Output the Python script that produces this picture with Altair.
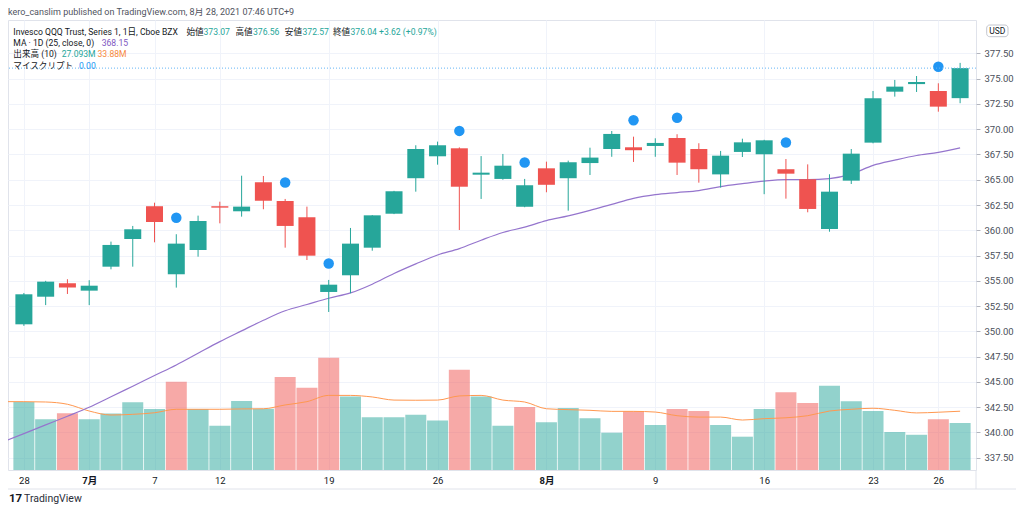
import json
import altair as alt
import pandas as pd

# ---------------- data ----------------
bar_index = list(range(44))  # trading days 2021-06-28 .. 2021-08-27
opens = [350.70, 353.43, 354.76, 354.03, 356.40, 359.14, 362.38, 355.65, 358.05, 362.38,
         361.88, 364.75, 362.90, 361.29, 353.90, 355.55, 358.28, 361.64, 365.15, 367.32,
         368.11, 365.50, 365.08, 362.34, 366.13, 365.15, 366.65, 368.04, 368.21, 368.34,
         369.13, 368.04, 365.53, 367.75, 367.52, 366.04, 365.05, 360.13, 364.91, 368.67,
         373.71, 374.46, 373.78, 373.07]
highs = [353.80, 355.00, 355.16, 355.06, 358.88, 360.43, 362.73, 359.61, 361.45, 362.83,
         365.40, 365.37, 363.10, 362.34, 355.09, 360.23, 361.50, 363.90, 368.41, 368.77,
         368.20, 367.34, 367.55, 365.08, 366.79, 366.89, 368.17, 369.82, 369.26, 369.10,
         369.50, 368.61, 367.85, 369.06, 368.95, 367.05, 366.52, 365.54, 368.04, 373.78,
         374.87, 375.26, 374.54, 376.56]
lows = [350.55, 352.60, 353.70, 352.60, 356.14, 356.40, 358.81, 354.33, 357.39, 360.69,
        361.35, 362.08, 358.28, 357.06, 351.92, 353.77, 357.98, 361.60, 363.82, 366.49,
        360.03, 363.10, 365.00, 362.28, 363.76, 361.94, 365.47, 367.27, 366.76, 367.27,
        365.47, 364.71, 364.22, 367.25, 363.57, 363.13, 361.78, 359.86, 364.58, 368.60,
        373.22, 373.68, 371.73, 372.57]
closes = [353.67, 354.92, 354.33, 354.52, 358.55, 360.10, 360.82, 358.68, 360.92, 362.24,
          362.34, 362.93, 360.43, 357.49, 354.62, 358.68, 361.48, 363.86, 368.04, 368.41,
          364.31, 365.70, 366.39, 364.45, 364.50, 366.73, 367.19, 369.53, 367.92, 368.64,
          366.69, 366.04, 367.38, 368.70, 368.90, 365.60, 362.11, 363.82, 367.58, 373.06,
          374.21, 374.67, 372.23, 376.04]
volumes_m = [39.2, 29.2, 32.7, 29.2, 32.5, 39.0, 35.2, 50.9, 35.2, 25.5,
             39.8, 35.3, 53.6, 47.4, 64.7, 42.3, 30.4, 30.4, 31.9, 28.6,
             57.8, 42.3, 25.5, 36.3, 27.5, 35.7, 29.8, 21.5, 33.8, 25.9,
             35.2, 34.0, 25.9, 19.2, 35.2, 44.8, 38.6, 48.6, 39.6, 34.0,
             21.9, 20.3, 29.2, 27.093]
volume_dir = ["up", "up", "down", "up", "up", "up", "up", "down", "up", "up",
              "up", "up", "down", "down", "down", "up", "up", "up", "up", "up",
              "down", "up", "up", "down", "up", "up", "up", "up", "down", "up",
              "down", "down", "up", "up", "up", "down", "down", "up", "up", "up",
              "up", "up", "down", "up"]
# moving averages, starting one bar before the first visible bar (index -1)
ma_index = list(range(-1, 44))
ma25 = [339.04, 339.89, 340.75, 341.61, 342.50, 343.53, 344.58, 345.63, 346.68, 347.84,
        348.99, 350.05, 351.10, 352.04, 352.66, 353.28, 353.81, 354.67, 355.73, 356.68,
        357.56, 358.19, 359.02, 359.78, 360.31, 360.96, 361.42, 361.97, 362.57, 363.16,
        363.52, 363.73, 363.93, 364.32, 364.61, 364.87, 365.01, 365.01, 365.11, 365.55,
        366.42, 366.94, 367.40, 367.71, 368.15]
vol_ma10 = [39.4, 39.4, 39.2, 37.9, 34.0, 31.7, 32.1, 33.0, 35.0, 35.0,
            35.0, 35.2, 35.3, 37.5, 39.4, 43.0, 43.0, 42.1, 40.3, 40.2,
            40.3, 42.7, 43.0, 40.3, 39.2, 35.3, 34.8, 34.4, 33.8, 33.8,
            33.4, 31.3, 30.5, 30.5, 28.8, 29.6, 30.1, 31.3, 34.0, 35.0,
            35.6, 34.4, 32.9, 33.3, 33.88]
signal_bars = [7, 12, 14, 20, 23, 28, 30, 35, 42]
x_tick_index = [0, 3, 6, 9, 14, 19, 24, 29, 34, 39, 42]
x_tick_labels = ["28", "7月", "7", "12", "19", "26", "8月", "9", "16", "23", "26"]
price_ticks = [337.5, 340.0, 342.5, 345.0, 347.5, 350.0, 352.5, 355.0, 357.5,
               360.0, 362.5, 365.0, 367.5, 370.0, 372.5, 375.0, 377.5]

# ---------------- styling ----------------
UP = "#26a69a"
DOWN = "#ef5350"
GRID = "#f0f3fa"
BORDER = "#e0e3eb"
TEXT = "#131722"
PURPLE = "#7e57c2"
ORANGE = "#ff9850"
BLUE = "#2196f3"
FONT = "Roboto, Noto Sans CJK JP, sans-serif"
FS = 8.6
W, H = 968, 450

df = pd.DataFrame({"i": bar_index, "open": opens, "high": highs, "low": lows,
                   "close": closes, "volume": volumes_m, "vdir": volume_dir})
df_ma = pd.DataFrame({"i": ma_index, "ma": ma25, "vma": vol_ma10})
df_sig = df[df["i"].isin(signal_bars)]
df_last = df.tail(1)

label_expr = "{}[indexof({}, datum.value)]".format(
    json.dumps(x_tick_labels, ensure_ascii=False), json.dumps(x_tick_index))
month_test = " || ".join("datum.value == %d" % v for v, t in zip(x_tick_index, x_tick_labels) if t.endswith("月"))

x_axis = alt.Axis(values=x_tick_index, labelExpr=label_expr, grid=True, gridColor=GRID,
                  domain=False, ticks=False, labelFontSize=9.5, labelColor=TEXT, labelFont=FONT,
                  labelPadding=5, title=None,
                  labelFontWeight={"condition": {"test": month_test, "value": "bold"}, "value": "normal"})
x_scale = alt.Scale(domain=[-0.5, 43.5], nice=False, zero=False)


def X():
    return alt.X("i:Q", scale=x_scale, axis=x_axis)


p_scale = alt.Scale(domain=[336.29, 380.80], nice=False, zero=False)
p_axis = alt.Axis(orient="right", values=price_ticks, format=".2f", grid=True, gridColor=GRID,
                  domain=False, tickSize=4, tickColor="#b2b5be", labelFontSize=9.5, labelColor="#4a4f5a",
                  labelFont=FONT, labelPadding=4, title=None)


def PY(field):
    return alt.Y(field + ":Q", scale=p_scale, axis=p_axis)


v_scale = alt.Scale(domain=[0, 259.4], nice=False, zero=True)

cond_color = alt.condition("datum.close >= datum.open", alt.value(UP), alt.value(DOWN))

# volume pane
vol_bars = alt.Chart(df).mark_bar(size=21, opacity=0.5).encode(
    x=X(), y=alt.Y("volume:Q", scale=v_scale, axis=None),
    color=alt.Color("vdir:N", scale=alt.Scale(domain=["up", "down"], range=[UP, DOWN]), legend=None))
vol_ma_line = alt.Chart(df_ma).mark_line(color=ORANGE, strokeWidth=1, clip=True, interpolate="monotone").encode(
    x=X(), y=alt.Y("vma:Q", scale=v_scale, axis=None))
vol_layer = alt.layer(vol_bars, vol_ma_line)

# price pane
ma_line = alt.Chart(df_ma).mark_line(color="#9575cd", strokeWidth=1.2, clip=True, interpolate="monotone").encode(
    x=X(), y=PY("ma"))
wicks = alt.Chart(df).mark_rule(strokeWidth=1).encode(x=X(), y=PY("low"), y2="high:Q", color=cond_color)
bodies = alt.Chart(df).mark_bar(size=17).encode(x=X(), y=PY("open"), y2="close:Q", color=cond_color)
dots = alt.Chart(df_sig).mark_circle(size=110, color=BLUE, opacity=1, yOffset=-16.5).encode(x=X(), y=PY("high"))
price_line = alt.Chart(df_last).mark_rule(color="#64b5f6", strokeDash=[1, 2], strokeWidth=1).encode(y=PY("close"))
price_layer = alt.layer(ma_line, wicks, bodies, dots, price_line)

dummy = pd.DataFrame({"k": [0]})


def txt(s, x, y, color=TEXT, size=FS, weight="normal", align="left"):
    return alt.Chart(dummy).mark_text(align=align, baseline="middle", font=FONT, fontSize=size,
                                      color=color, fontWeight=weight).encode(
        x=alt.value(x), y=alt.value(y), text=alt.value(s))


texts = [
    txt("kero_canslim published on TradingView.com, 8月 28, 2021 07:46 UTC+9", 0, -8.3, "#50535e", 9),
    txt("Invesco QQQ Trust, Series 1, 1日, Cboe BZX", 5.3, 11.7),
    txt("始値", 178.5, 11.7), txt("373.07", 195.5, 11.7, UP),
    txt("高値", 227.5, 11.7), txt("376.56", 245, 11.7, UP),
    txt("安値", 276.8, 11.7), txt("372.57", 294.5, 11.7, UP),
    txt("終値", 325, 11.7), txt("376.04 +3.62 (+0.97%)", 342.5, 11.7, UP),
    txt("MA · 1D (25, close, 0)", 5.3, 23.3), txt("368.15", 93.7, 23.3, PURPLE),
    txt("出来高 (10)", 5.3, 34.3), txt("27.093M", 53.7, 34.3, UP), txt("33.88M", 89.5, 34.3, "#f7893b"),
    txt("マイスクリプト", 5.3, 45.7), txt("0.00", 71, 45.7, BLUE),
    txt("17", 1, 478.5, TEXT, 11.5, "bold"),
    txt("TradingView", 16, 478.5, "#2a2e39", 10.5),
]

frame = [
    alt.Chart(dummy).mark_rule(color=BORDER).encode(x=alt.value(0), x2=alt.value(1008), y=alt.value(469)),
    alt.Chart(dummy).mark_rule(color=BORDER).encode(x=alt.value(W), y=alt.value(H), y2=alt.value(469)),
    alt.Chart(dummy).mark_rect(fill="white", stroke="#c3c6ce", strokeWidth=1, cornerRadius=3).encode(
        x=alt.value(978.7), x2=alt.value(1000), y=alt.value(5), y2=alt.value(16.7)),
    txt("USD", 989.3, 11, TEXT, 8.5, "normal", "center"),
]

chart = alt.layer(vol_layer, price_layer, *texts, *frame).resolve_scale(y="independent").properties(
    width=W, height=H,
    autosize=alt.AutoSizeParams(type="none"),
    padding={"left": 0, "top": 12, "right": 40, "bottom": 36},
    background="white",
).configure_view(stroke=BORDER, strokeWidth=1)

chart.save("out.html", embed_options={"renderer": "svg", "actions": False})
